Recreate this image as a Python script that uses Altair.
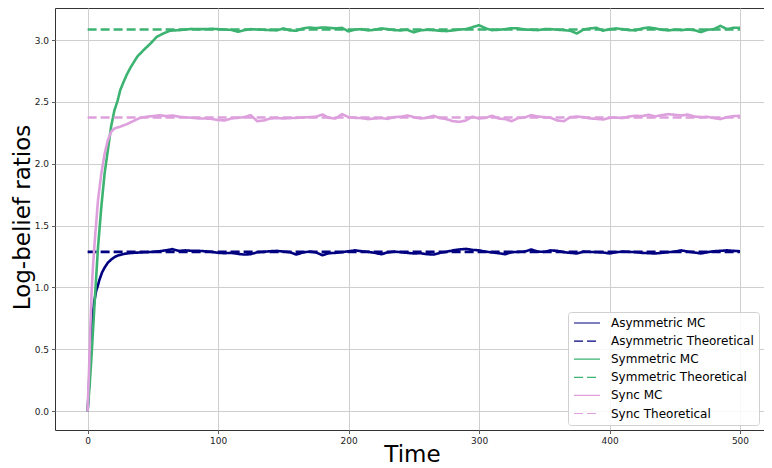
import altair as alt
import pandas as pd

# ---------------- data ----------------
series_names = ["Asymmetric MC", "Asymmetric Theoretical",
                "Symmetric MC", "Symmetric Theoretical",
                "Sync MC", "Sync Theoretical"]
series_colors = ["#000080", "#000080", "#3cb371", "#3cb371", "#dda0dd", "#dda0dd"]
series_dash = [[1, 0], [9, 4], [1, 0], [9, 4], [1, 0], [9, 4]]

asym_t = [0, 1, 2, 3, 4, 5, 6.5, 8, 9, 11, 13, 15.5, 18, 20.5, 23, 26, 30, 35] + list(range(40, 501, 5))
asym_v = [0.0, 0.20, 0.45, 0.64, 0.78, 0.88, 0.97, 1.02, 1.06, 1.12, 1.16, 1.20, 1.225, 1.245, 1.258, 1.267, 1.275, 1.280,
          1.283, 1.285, 1.288, 1.293, 1.300, 1.310, 1.296, 1.300, 1.296, 1.296,
          1.293, 1.288, 1.280, 1.277, 1.280, 1.272, 1.266, 1.269, 1.285, 1.288,
          1.293, 1.296, 1.290, 1.285, 1.266, 1.283, 1.290, 1.283, 1.261, 1.277,
          1.280, 1.285, 1.293, 1.300, 1.293, 1.288, 1.280, 1.269, 1.283, 1.290,
          1.285, 1.280, 1.275, 1.277, 1.269, 1.266, 1.280, 1.288, 1.300, 1.307,
          1.312, 1.304, 1.300, 1.290, 1.283, 1.277, 1.269, 1.285, 1.288, 1.290,
          1.307, 1.290, 1.288, 1.300, 1.296, 1.285, 1.280, 1.275, 1.290, 1.288,
          1.285, 1.283, 1.275, 1.285, 1.290, 1.288, 1.285, 1.280, 1.277, 1.275,
          1.280, 1.285, 1.290, 1.300, 1.290, 1.283, 1.275, 1.285, 1.293, 1.296,
          1.300, 1.296, 1.293]

sym_t = [0, 1.5, 3, 5.5, 8, 10.5, 13, 15.5, 18, 20.5, 23, 25, 27.5, 30, 33, 38, 43, 48, 53, 58, 63] + list(range(70, 501, 5))
sym_v = [0.0, 0.20, 0.45, 0.90, 1.33, 1.65, 1.92, 2.11, 2.30, 2.43, 2.51, 2.595, 2.66, 2.72, 2.78, 2.865, 2.92, 2.97, 3.026, 3.053, 3.075,
         3.080, 3.085, 3.090, 3.088, 3.088, 3.091, 3.088, 3.085, 3.083, 3.067,
         3.080, 3.088, 3.085, 3.083, 3.080, 3.078, 3.094, 3.078, 3.075, 3.094,
         3.102, 3.096, 3.102, 3.099, 3.094, 3.099, 3.070, 3.085, 3.088, 3.078,
         3.083, 3.094, 3.088, 3.080, 3.078, 3.083, 3.062, 3.078, 3.083, 3.080,
         3.075, 3.072, 3.078, 3.085, 3.088, 3.104, 3.120, 3.095, 3.080, 3.083,
         3.088, 3.096, 3.094, 3.085, 3.083, 3.080, 3.088, 3.088, 3.083, 3.080,
         3.075, 3.053, 3.085, 3.094, 3.099, 3.075, 3.088, 3.094, 3.088, 3.080,
         3.078, 3.094, 3.102, 3.094, 3.083, 3.078, 3.083, 3.080, 3.085, 3.080,
         3.064, 3.083, 3.088, 3.115, 3.088, 3.099, 3.099]

sync_t = [0, 1, 2, 3, 4, 5.5, 8, 10.5, 13, 15.5, 18, 20.5, 25, 30, 35] + list(range(40, 501, 5))
sync_v = [0.0, 0.30, 0.65, 0.95, 1.15, 1.38, 1.71, 1.92, 2.08, 2.19, 2.258, 2.285, 2.300, 2.320, 2.345,
          2.370, 2.380, 2.385, 2.392, 2.385, 2.390, 2.380, 2.375, 2.372, 2.366,
          2.366, 2.363, 2.353, 2.350, 2.366, 2.371, 2.377, 2.393, 2.344, 2.350,
          2.366, 2.369, 2.366, 2.369, 2.371, 2.374, 2.377, 2.380, 2.398, 2.371,
          2.366, 2.401, 2.377, 2.371, 2.369, 2.361, 2.366, 2.369, 2.363, 2.377,
          2.380, 2.390, 2.377, 2.366, 2.371, 2.388, 2.369, 2.361, 2.344, 2.339,
          2.350, 2.380, 2.366, 2.371, 2.388, 2.366, 2.361, 2.344, 2.369, 2.374,
          2.393, 2.382, 2.377, 2.371, 2.350, 2.344, 2.377, 2.382, 2.377, 2.366,
          2.363, 2.358, 2.371, 2.374, 2.369, 2.382, 2.388, 2.385, 2.396, 2.382,
          2.393, 2.401, 2.396, 2.390, 2.398, 2.382, 2.377, 2.380, 2.369, 2.361,
          2.377, 2.385, 2.388]

theo_t = [0, 500]
asym_theo = 1.288
sym_theo = 3.085
sync_theo = 2.374

# ---------------- table ----------------
rows = []
for name, ts, vs in [("Asymmetric MC", asym_t, asym_v),
                     ("Symmetric MC", sym_t, sym_v),
                     ("Sync MC", sync_t, sync_v)]:
    rows += [{"t": t, "v": v, "series": name} for t, v in zip(ts, vs)]
for name, val in [("Asymmetric Theoretical", asym_theo),
                  ("Symmetric Theoretical", sym_theo),
                  ("Sync Theoretical", sync_theo)]:
    rows += [{"t": t, "v": val, "series": name} for t in theo_t]
df = pd.DataFrame(rows)

FONT = "DejaVu Sans"

x_enc = alt.X("t:Q", scale=alt.Scale(domain=[-25, 518.4], nice=False, zero=False),
              axis=alt.Axis(values=[0, 100, 200, 300, 400, 500], format="d", title="Time",
                            titleX=357, titleY=31.5, titleBaseline="alphabetic"))
y_enc = alt.Y("v:Q", scale=alt.Scale(domain=[-0.152, 3.259], nice=False, zero=False),
              axis=alt.Axis(values=[0, 0.5, 1.0, 1.5, 2.0, 2.5, 3.0], format=".1f",
                            title="Log-belief ratios", titleAngle=270,
                            titleX=-25.5, titleY=209, titleBaseline="alphabetic",
                            titleAlign="center"))
color_enc = alt.Color("series:N", scale=alt.Scale(domain=series_names, range=series_colors),
                      legend=alt.Legend(title=None))
dash_enc = alt.StrokeDash("series:N", scale=alt.Scale(domain=series_names, range=series_dash),
                          legend=alt.Legend(title=None))

layers = []
for name in series_names:
    layers.append(
        alt.Chart(df)
        .transform_filter(alt.datum.series == name)
        .mark_line(strokeWidth=2.6, strokeCap="butt", strokeJoin="round")
        .encode(x=x_enc, y=y_enc, color=color_enc, strokeDash=dash_enc)
    )

chart = (
    alt.layer(*layers)
    .properties(width=709, height=422,
                autosize=alt.AutoSizeParams(type="none"),
                padding={"left": 47, "top": 0, "right": 0, "bottom": 38})
    .configure_view(stroke="#333333", strokeWidth=1)
    .configure_axis(labelFont=FONT, labelFontSize=9, labelColor="#222222",
                    tickColor="#333333", tickSize=3.5, tickWidth=0.8, labelPadding=3,
                    domain=False, grid=True, gridColor="#cfcfcf", gridWidth=1,
                    titleFont=FONT, titleFontSize=23, titleFontWeight="normal", titleColor="black")
    .configure_legend(orient="none", legendX=513, legendY=304, padding=5,
                      fillColor="rgba(255,255,255,0.85)", strokeColor="#d0d0d0",
                      cornerRadius=3, labelFont=FONT, labelFontSize=12, labelColor="black",
                      symbolType="stroke", symbolSize=676, symbolStrokeWidth=1.2,
                      clipHeight=12, labelOffset=10, rowPadding=6.1, labelLimit=300)
)

chart.save("out.html", embed_options={"renderer": "svg", "actions": False})
